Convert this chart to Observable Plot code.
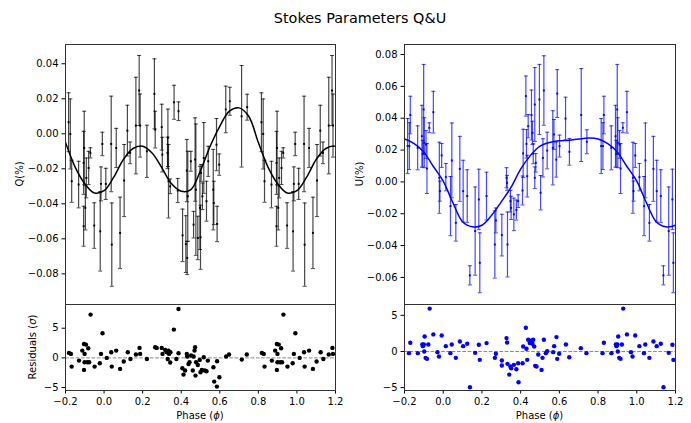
<!DOCTYPE html>
<html><head><meta charset="utf-8">
<script src="https://cdn.jsdelivr.net/npm/d3@7"></script>
<script src="https://cdn.jsdelivr.net/npm/@observablehq/plot@0.6"></script>
<style>
body{margin:0;background:#fff;font-family:"DejaVu Sans",sans-serif;}
#fig{position:relative;width:691px;height:423px;overflow:hidden;}
.p{position:absolute;}
.lbl{position:absolute;font-size:10px;line-height:1;color:#000;white-space:nowrap;transform:translate(-50%,-50%);}
.rot{transform:translate(-50%,-50%) rotate(-90deg);}
</style></head><body><div id="fig"></div>
<script>
// ---------- data ----------
const title = "Stokes Parameters Q&U";
const xTicks = [-0.2, 0.0, 0.2, 0.4, 0.6, 0.8, 1.0, 1.2];
const qTicks = [-0.08, -0.06, -0.04, -0.02, 0.00, 0.02, 0.04];
const uTicks = [-0.06, -0.04, -0.02, 0.00, 0.02, 0.04, 0.06, 0.08];
const resTicks = [-5, 0, 5];

const qPhase = [0.009,0.037,0.040,0.063,0.083,0.104,0.121,0.135,0.165,0.182,
0.187,0.222,0.261,0.265,0.299,0.302,0.329,0.331,0.334,0.343,
0.363,0.386,0.382,0.407,0.424,0.429,0.431,0.434,0.450,0.464,
0.472,0.476,0.486,0.503,0.497,0.500,0.510,0.517,0.531,0.540,
0.566,0.569,0.583,0.586,0.597,0.631,0.652,0.713,0.742,0.816,
0.825,0.832,0.868,0.894,0.894,0.897,0.903,0.908,0.920,0.929,
0.949,0.980,0.984,0.991];
const qVal = [-0.0286,-0.0058,-0.0633,-0.0081,-0.0566,-0.0267,0.0018,-0.0109,0.0047,0.0247,
0.0047,-0.0100,0.0228,0.0024,0.0038,-0.0119,-0.0109,-0.0023,-0.0271,-0.0300,
0.0180,0.0129,-0.0324,-0.0580,-0.0630,-0.0210,-0.0709,-0.0357,-0.0157,-0.0519,
-0.0147,-0.0319,-0.0595,-0.0223,-0.0423,-0.0591,-0.0357,-0.0138,-0.0385,-0.0157,
-0.0319,-0.0395,-0.0062,-0.0515,-0.0176,0.0139,0.0186,0.0100,0.0152,0.0066,
-0.0001,-0.0271,-0.0290,-0.0528,-0.0166,-0.0081,-0.0423,-0.0252,-0.0195,-0.0109,
-0.0524,-0.0557,-0.0286,-0.0058];
const qErr = [0.0089,0.0273,0.0238,0.0112,0.0204,0.0206,0.0145,0.0062,0.0276,0.0200,
0.0180,0.0149,0.0200,0.0105,0.0131,0.0099,0.0090,0.0164,0.0210,0.0042,
0.0097,0.0053,0.0069,0.0150,0.0162,0.0178,0.0095,0.0257,0.0057,0.0076,
0.0238,0.0375,0.0124,0.0048,0.0238,0.0183,0.0076,0.0202,0.0114,0.0086,
0.0230,0.0124,0.0149,0.0101,0.0061,0.0133,0.0080,0.0290,0.0074,0.0168,
0.0200,0.0120,0.0133,0.0114,0.0180,0.0210,0.0126,0.0114,0.0095,0.0029,
0.0130,0.0227,0.0097,0.0067];

const curvePhase = [0.00,0.05,0.10,0.15,0.20,0.25,0.30,0.35,0.40,0.45,
0.50,0.55,0.60,0.65,0.70,0.75,0.80,0.85,0.90,0.95];
const qCurve = [-0.0325,-0.0248,-0.0147,-0.0084,-0.0071,-0.0111,-0.0195,-0.0286,-0.0328,-0.0319,
-0.0210,-0.0071,0.0043,0.0129,0.0148,0.0100,-0.0050,-0.0190,-0.0285,-0.0338];

const qResPhase = [0.014,0.037,0.040,0.063,0.083,0.102,0.123,0.137,0.165,0.184,
0.187,0.222,0.265,0.273,0.299,0.303,0.317,0.325,0.334,0.337,
0.344,0.330,0.343,0.362,0.375,0.386,0.386,0.406,0.412,0.420,
0.429,0.431,0.438,0.443,0.451,0.460,0.464,0.469,0.472,0.474,
0.477,0.486,0.496,0.500,0.507,0.517,0.522,0.531,0.538,0.567,
0.571,0.585,0.586,0.598,0.633,0.648,0.714,0.740,0.818,0.828,
0.832,0.870,0.887,0.896,0.906,0.918,0.899,0.899,0.913,0.923,
0.896,0.930,0.951,0.978,0.984,0.992];
const qRes = [0.0,0.95,-1.47,1.23,-1.86,-0.62,0.95,-0.18,0.56,1.68,
0.67,-0.18,1.79,1.68,1.68,0.67,1.34,0.95,1.23,0.67,
0.95,-0.18,-0.79,4.77,-0.18,8.25,0.78,-1.75,-2.82,-2.14,
0.67,0.22,-1.02,-0.74,0.39,-2.14,0.22,1.23,1.79,-2.99,
-0.74,-1.19,-0.34,-2.42,-2.03,0.11,-2.14,-2.25,-0.46,-1.58,
-4.0,-4.84,-0.57,-3.27,0.22,0.56,-0.29,0.56,0.84,0.67,
-1.47,-0.46,1.23,2.35,2.24,1.62,0.67,-0.74,-0.74,-0.74,
-2.03,7.3,-1.47,-0.91,0.67,4.15];

const uPhase = [0.0135,0.0376,0.0445,0.0652,0.0858,0.103,0.124,0.1375,0.165,0.184,
0.189,0.2236,0.2667,0.272,0.3028,0.327,0.330,0.332,0.347,0.351,
0.365,0.378,0.387,0.4096,0.413,0.427,0.430,0.434,0.439,0.456,
0.461,0.465,0.473,0.473,0.478,0.497,0.503,0.515,0.520,0.537,
0.566,0.572,0.584,0.589,0.601,0.632,0.652,0.713,0.742,0.816,
0.825,0.830,0.868,0.890,0.894,0.899,0.902,0.911,0.916,0.928,
0.949,0.980,0.983,0.992];
const uVal = [0.0030,-0.0152,0.0135,-0.0257,0.0082,-0.0058,-0.0089,-0.0587,-0.0309,-0.0110,
-0.0508,-0.0089,-0.0393,-0.0242,-0.0334,0.0026,-0.0006,-0.0393,-0.0121,-0.0163,
-0.0204,-0.0177,-0.0121,-0.0054,0.0179,0.0539,0.0239,0.0036,0.0350,0.0420,
0.0308,0.0177,0.0486,0.0026,0.0120,0.0518,-0.0068,0.0151,0.0574,0.0197,
0.0214,0.0298,0.0140,0.0555,0.0225,0.0398,0.0189,0.0420,0.0252,0.0225,
0.0225,0.0420,0.0214,0.0287,0.0177,0.0455,0.0246,0.0235,0.0084,0.0340,
0.0438,0.0026,-0.0058,0.0166];
const uErr = [0.0086,0.0186,0.0235,0.0115,0.0204,0.0194,0.0165,0.0060,0.0277,0.0190,
0.0188,0.0150,0.0211,0.0078,0.0131,0.0063,0.0047,0.0204,0.0068,0.0073,
0.0102,0.0063,0.0040,0.0091,0.0152,0.0126,0.0089,0.0131,0.0073,0.0157,
0.0073,0.0063,0.0232,0.0068,0.0058,0.0220,0.0108,0.0120,0.0218,0.0115,
0.0233,0.0094,0.0110,0.0150,0.0069,0.0134,0.0084,0.0292,0.0075,0.0173,
0.0147,0.0118,0.0138,0.0194,0.0084,0.0283,0.0157,0.0087,0.0157,0.0031,
0.0131,0.0223,0.0063,0.0075];
const uCurve = [0.0005,-0.0131,-0.0250,-0.0282,-0.0272,-0.0210,-0.0125,-0.0035,0.0080,0.0165,
0.0225,0.0248,0.0258,0.0262,0.0269,0.0275,0.0270,0.0240,0.0187,0.0095];

const uResPhase = [0.0135,0.037,0.044,0.065,0.086,0.103,0.124,0.138,0.165,0.184,
0.189,0.224,0.267,0.272,0.303,0.303,0.327,0.330,0.332,0.347,
0.351,0.341,0.365,0.378,0.387,0.389,0.410,0.413,0.427,0.430,
0.434,0.439,0.447,0.456,0.461,0.465,0.470,0.475,0.482,0.491,
0.508,0.513,0.520,0.530,0.537,0.568,0.573,0.585,0.589,0.599,
0.634,0.651,0.711,0.740,0.823,0.830,0.869,0.892,0.895,0.900,
0.904,0.902,0.909,0.916,0.923,0.930,0.949,0.970,0.978,0.992];
const uRes = [0.74,-0.23,0.97,-0.88,1.39,0.74,1.06,-4.95,-0.19,0.93,
-1.16,1.16,-0.88,-0.32,-1.25,-1.94,1.85,1.25,-1.71,-2.08,
-2.32,-3.2,-1.85,-2.45,-1.62,-4.26,-1.62,0.69,3.29,0.37,
-1.16,1.62,1.16,1.53,1.06,1.62,0.69,-1.99,-2.08,-0.42,
-2.55,-0.88,1.62,-0.23,0.05,-0.09,0.74,1.99,-1.02,-0.32,
0.97,-0.79,0.46,-0.23,-0.23,1.2,-0.23,0.97,0.74,0.97,
2.08,0.0,-0.88,-1.02,0.97,5.93,2.36,-0.09,-0.69,2.22];

// ---------- helpers ----------
// phase-folded data shown over the window [-0.2, 1.2]
function fold(rows, lo, hi) {
  const out = [];
  for (const r of rows) for (const k of [-1, 0, 1]) {
    const p = r.phase + k;
    if (p >= lo && p <= hi) out.push({...r, phase: p});
  }
  return out.sort((a, b) => a.phase - b.phase);
}
const capSymbol = {draw(ctx, size) { const r = Math.sqrt(size / Math.PI); ctx.moveTo(-r, 0); ctx.lineTo(r, 0); }};
const baseStyle = {background: "transparent", fontFamily: "'DejaVu Sans', sans-serif", fontSize: "10px", color: "#000", overflow: "visible"};

function mainPlot(phase, val, err, curveVals, color, yDomain, yTicks, width, ml, mr) {
  const rows = fold(phase.map((p, i) => ({phase: p, v: val[i], e: err[i]})), -0.2, 1.2);
  const curve = fold(curvePhase.map((p, i) => ({phase: p, v: curveVals[i]})), -0.35, 1.35);
  return Plot.plot({
    width, height: 305, marginTop: 44, marginBottom: 1, marginLeft: ml, marginRight: mr,
    style: baseStyle,
    x: {domain: [-0.2, 1.2], axis: null},
    y: {domain: yDomain, ticks: yTicks, tickFormat: d3.format(".2f"), tickSize: 3.5, tickPadding: 3.5, label: null},
    marks: [
      Plot.ruleX(rows, {x: "phase", y1: d => d.v - d.e, y2: d => d.v + d.e, stroke: color, strokeOpacity: 0.72, strokeWidth: 1.2, clip: true}),
      Plot.dot(rows, {x: "phase", y: d => d.v - d.e, symbol: capSymbol, r: 2, fill: "none", stroke: color, strokeOpacity: 0.72, strokeWidth: 1, clip: true}),
      Plot.dot(rows, {x: "phase", y: d => d.v + d.e, symbol: capSymbol, r: 2, fill: "none", stroke: color, strokeOpacity: 0.72, strokeWidth: 1, clip: true}),
      Plot.line(curve, {x: "phase", y: "v", stroke: color, strokeWidth: 1.5, curve: "catmull-rom", clip: true}),
      Plot.dot(rows, {x: "phase", y: "v", symbol: "square", r: 1.1, fill: color, stroke: "none", clip: true}),
      Plot.frame({stroke: "#333", strokeWidth: 1})
    ]
  });
}
function resPlot(phase, res, color, yDomain, width, ml, mr) {
  const rows = fold(phase.map((p, i) => ({phase: p, r: res[i]})), -0.2, 1.2);
  return Plot.plot({
    width, height: 120, marginTop: 1, marginBottom: 33, marginLeft: ml, marginRight: mr,
    style: baseStyle,
    x: {domain: [-0.2, 1.2], ticks: xTicks, tickFormat: d3.format(".1f"), tickSize: 3.5, tickPadding: 3.5, label: null},
    y: {domain: yDomain, ticks: resTicks, tickFormat: d3.format("d"), tickSize: 3.5, tickPadding: 3.5, label: null},
    marks: [
      Plot.ruleY([0], {stroke: "#888", strokeWidth: 1, strokeDasharray: "3.7,1.6"}),
      Plot.dot(rows, {x: "phase", y: "r", r: 2.2, fill: color, stroke: "none", clip: true}),
      Plot.frame({stroke: "#333", strokeWidth: 1})
    ]
  });
}

// ---------- layout ----------
const fig = document.getElementById("fig");
function place(node, left, top) { const d = document.createElement("div"); d.className = "p"; d.style.left = left + "px"; d.style.top = top + "px"; d.appendChild(node); fig.appendChild(d); }
function label(text, x, y, opts = {}) {
  const d = document.createElement("div");
  d.className = "lbl" + (opts.rot ? " rot" : "");
  d.innerHTML = text;
  d.style.left = x + "px"; d.style.top = y + "px";
  if (opts.size) d.style.fontSize = opts.size + "px";
  fig.appendChild(d);
}

place(mainPlot(qPhase, qVal, qErr, qCurve, "black", [-0.0975, 0.051], qTicks, 345, 65, 10), 0, 0);
place(resPlot(qResPhase, qRes, "black", [-5.5, 9.0], 345, 65, 10), 0, 303);
place(mainPlot(uPhase, uVal, uErr, uCurve, "blue", [-0.077, 0.0863], uTicks, 346, 59, 16), 345, 0);
place(resPlot(uResPhase, uRes, "blue", [-5.4, 6.5], 346, 59, 16), 345, 303);

label(title, 360, 18, {size: 14.4});
label("Q(%)", 20, 174, {rot: true});
label("U(%)", 360, 174, {rot: true});
label("Residuals (<i>σ</i>)", 33, 347, {rot: true});
label("Phase (<i>ϕ</i>)", 200, 416);
label("Phase (<i>ϕ</i>)", 539.5, 416);
</script></body></html>
